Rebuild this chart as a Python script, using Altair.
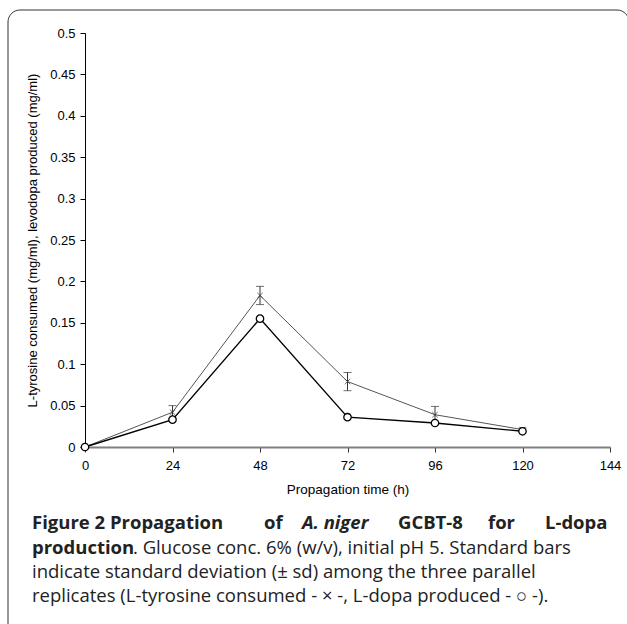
import altair as alt
import pandas as pd

hours = [0, 24, 48, 72, 96, 120]
tyrosine = [0.0, 0.042, 0.183, 0.079, 0.039, 0.021]
tyrosine_sd = [0.0, 0.008, 0.011, 0.011, 0.010, 0.002]
ldopa = [0.0, 0.033, 0.155, 0.036, 0.029, 0.019]

x_ticks = [0, 24, 48, 72, 96, 120, 144]
y_ticks = [0, 0.05, 0.1, 0.15, 0.2, 0.25, 0.3, 0.35, 0.4, 0.45, 0.5]

df = pd.DataFrame({
    "hours": hours,
    "tyr": tyrosine,
    "tyr_lo": [v - s for v, s in zip(tyrosine, tyrosine_sd)],
    "tyr_hi": [v + s for v, s in zip(tyrosine, tyrosine_sd)],
    "dopa": ldopa,
})

W, H = 525, 414
PL, PT = 85, 33

xs = alt.Scale(domain=[0, 144], nice=False)
ys = alt.Scale(domain=[0, 0.5], nice=False)

X = alt.X("hours:Q", scale=xs, axis=alt.Axis(
    values=x_ticks, title="Propagation time (h)", labelFlush=False, labelOverlap=False,
    domainColor="#7f7f7f", domainWidth=2, tickColor="#333", tickSize=5,
    labelPadding=7, titlePadding=10, titleFontSize=13.5))

base = alt.Chart(df)

tyr_line = base.mark_line(color="#555", strokeWidth=1).encode(
    x=X,
    y=alt.Y("tyr:Q", scale=ys, axis=alt.Axis(
        values=y_ticks, format="~g",
        title="L-tyrosine consumed (mg/ml), levodopa produced (mg/ml)",
        domainColor="#000", tickColor="#000", tickSize=5, labelPadding=5, titlePadding=10)))
dopa_line = base.mark_line(color="#000", strokeWidth=1.4).encode(x="hours:Q", y="dopa:Q")

err = base.mark_rule(color="#333", strokeWidth=1).encode(x="hours:Q", y="tyr_lo:Q", y2="tyr_hi:Q")
cap_hi = base.mark_tick(orient="horizontal", size=8, thickness=1, color="#333").encode(x="hours:Q", y="tyr_hi:Q")
cap_lo = base.mark_tick(orient="horizontal", size=8, thickness=1, color="#333").encode(x="hours:Q", y="tyr_lo:Q")

tyr_pts = base.mark_point(shape="M-1,-1L1,1M1,-1L-1,1", size=30, filled=False,
                          color="#333", strokeWidth=1).encode(x="hours:Q", y="tyr:Q")
dopa_pts = base.mark_point(shape="circle", size=55, filled=True, fill="white",
                           stroke="#000", strokeWidth=1.3, opacity=1).encode(x="hours:Q", y="dopa:Q")

frame = alt.Chart(pd.DataFrame({"a": [0]})).mark_rect(
    fill=None, fillOpacity=0, stroke="#333", strokeWidth=1, cornerRadius=12
).encode(x=alt.value(8 - PL), x2=alt.value(629 - PL), y=alt.value(10 - PT), y2=alt.value(720 - PT))

# caption
cap_font = "Open Sans"
def txt(s, x, y, bold=False, italic=False, size=18):
    kw = dict(align="left", baseline="middle", font=cap_font, fontSize=size, color="#222")
    if bold:
        kw["fontWeight"] = "bold"
    if italic:
        kw["fontStyle"] = "italic"
    return alt.Chart(pd.DataFrame({"t": [s]})).mark_text(**kw).encode(
        text="t:N", x=alt.value(x - PL), y=alt.value(y - PT))

line1_words = [("Figure 2 Propagation", 32, False), ("of", 264, False),
               ("A. niger", 302, True), ("GCBT-8", 398, False), ("for", 488, False),
               ("L-dopa", 545, False)]
caption = [txt(w, x, 523, bold=True, italic=it, size=18.5) for w, x, it in line1_words]
caption += [
    txt("production", 32, 548, bold=True, size=18.5),
    txt(". Glucose conc. 6% (w/v), initial pH 5. Standard bars", 133, 548, size=18.5),
    txt("indicate standard deviation (± sd) among the three parallel", 32, 572, size=18.5),
    txt("replicates (L-tyrosine consumed - × -, L-dopa produced - ○ -).", 32, 596, size=18.5),
]

chart = alt.layer(
    frame, tyr_line, dopa_line, err, cap_hi, cap_lo, tyr_pts, dopa_pts, *caption
).properties(
    width=W, height=H,
    autosize=alt.AutoSizeParams(type="none"),
    padding={"left": PL, "top": PT, "right": 627 - PL - W, "bottom": 624 - PT - H},
).configure(background="white").configure_view(stroke=None).configure_axis(
    grid=False, labelFont="Liberation Sans", titleFont="Liberation Sans",
    labelFontSize=13, titleFontSize=13, titleFontWeight="normal", labelColor="#000", titleColor="#000"
)

chart.save("out.html", embed_options={"renderer": "svg", "actions": False})
